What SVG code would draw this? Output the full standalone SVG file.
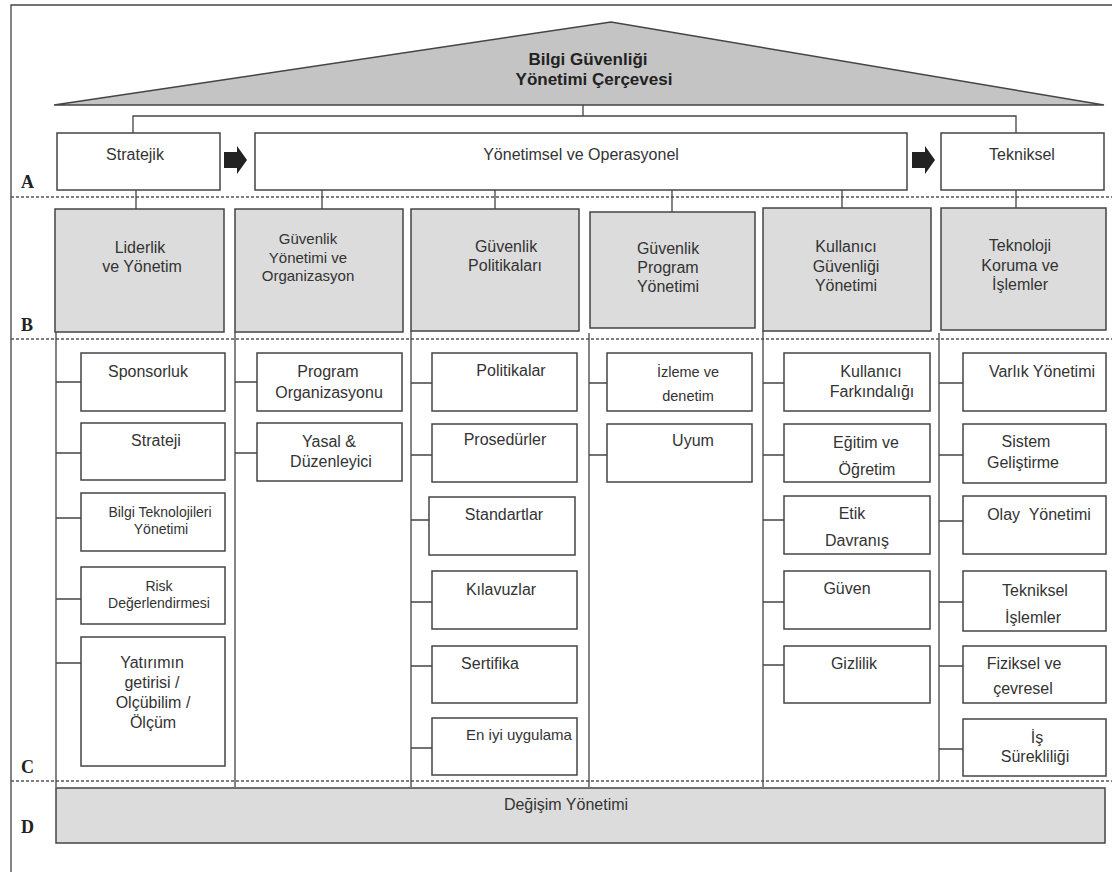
<svg xmlns="http://www.w3.org/2000/svg" width="1112" height="872" viewBox="0 0 1112 872">
<style>
text{font-family:"Liberation Sans",Arial,sans-serif;fill:#333;text-anchor:middle;font-size:16px}
.t{font-size:17px;font-weight:bold;fill:#222}
.lab{font-family:"Liberation Serif","Times New Roman",serif;font-weight:bold;font-size:18px;text-anchor:start;fill:#222}
.s15{font-size:15px}
.s14{font-size:14px}
.s145{font-size:14.5px}
.box{fill:#fff;stroke:#444;stroke-width:1.5}
.gbox{fill:#dcdcdc;stroke:#444;stroke-width:1.5}
.ln{stroke:#444;stroke-width:1.3;fill:none}
.dash{stroke:#555;stroke-width:1.5;stroke-dasharray:3,2;fill:none}
.arr{fill:#222}
</style>
<rect width="1112" height="872" fill="#fff"/>
<path class="ln" d="M11,872 V5 H1112"/>
<g id="roof">
<polygon points="54,105 611,22 1104,105" fill="#c4c4c4" stroke="#444" stroke-width="1.5"/>
<text class="t" x="588" y="65">Bilgi Güvenliği</text>
<text class="t" x="594" y="85">Yönetimi Çerçevesi</text>
</g>
<g id="labels">
<text class="lab" x="21" y="188">A</text>
<text class="lab" x="21" y="331">B</text>
<text class="lab" x="21" y="773">C</text>
<text class="lab" x="21" y="833">D</text>
</g>
<g id="dividers">
<line class="dash" x1="11" y1="197" x2="1112" y2="197"/>
<line class="dash" x1="11" y1="339" x2="1112" y2="339"/>
<line class="dash" x1="11" y1="781" x2="1112" y2="781"/>
</g>
<g id="connectors">
<path class="ln" d="M583,105 V116 M133,133 V116 H1016 V133"/>
<path class="ln" d="M136,190 V209 M322,190 V209 M495,190 V209 M672,190 V212 M842,190 V208 M1016,190 V208"/>
<path class="arr" d="M224,152 H237 V146 L247,160 L237,174 V168 H224 Z"/>
<path class="arr" d="M912,152 H925 V146 L935,160 L925,174 V168 H912 Z"/>
<path class="ln" d="M56,332 V787 M235,332 V787 M411,331 V787 M589,333 V787 M763,331 V787 M939,333 V781"/>
<path class="ln" d="M56,382 H81 M56,453 H81 M56,518 H81 M56,599 H81 M56,663 H81"/>
<path class="ln" d="M235,382 H257 M235,453 H257"/>
<path class="ln" d="M411,383 H432 M411,455 H432 M411,520 H429 M411,602 H432 M411,666 H432 M411,748 H432"/>
<path class="ln" d="M589,383 H607 M589,455 H607"/>
<path class="ln" d="M763,383 H784 M763,455 H784 M763,520 H784 M763,602 H784 M763,665 H784"/>
<path class="ln" d="M939,383 H963 M939,455 H963 M939,521 H963 M939,602 H963 M939,666 H963 M939,749 H963"/>
</g>
<g id="stratejik"><rect class="box" x="57" y="133" width="163" height="57"/><text x="135" y="160">Stratejik</text></g>
<g id="yonetimsel"><rect class="box" x="255" y="133" width="652" height="57"/><text x="581" y="160">Yönetimsel ve Operasyonel</text></g>
<g id="tekniksel"><rect class="box" x="941" y="133" width="163" height="57"/><text x="1022" y="160">Tekniksel</text></g>

<g id="liderlik"><rect class="gbox" x="55" y="209" width="169" height="123"/><text x="140" y="253">Liderlik</text><text x="142" y="272">ve Yönetim</text></g>
<g id="guv-yon-org"><rect class="gbox" x="235" y="209" width="168" height="123"/><text class="s15" x="308" y="244">Güvenlik</text><text class="s15" x="308" y="263">Yönetimi ve</text><text class="s15" x="308" y="281">Organizasyon</text></g>
<g id="guv-pol"><rect class="gbox" x="411" y="209" width="168" height="122"/><text x="506" y="252">Güvenlik</text><text x="505" y="271">Politikaları</text></g>
<g id="guv-prog"><rect class="gbox" x="590" y="212" width="165" height="116"/><text x="668" y="254">Güvenlik</text><text x="668" y="273">Program</text><text x="668" y="292">Yönetimi</text></g>
<g id="kul-guv"><rect class="gbox" x="763" y="208" width="168" height="123"/><text x="846" y="252">Kullanıcı</text><text x="846" y="272">Güvenliği</text><text x="846" y="291">Yönetimi</text></g>
<g id="teknoloji"><rect class="gbox" x="941" y="208" width="165" height="122"/><text x="1020" y="251">Teknoloji</text><text x="1020" y="271">Koruma ve</text><text x="1020" y="290">İşlemler</text></g>

<g id="sponsorluk"><rect class="box" x="81" y="353" width="144" height="58"/><text x="148" y="377">Sponsorluk</text></g>
<g id="strateji"><rect class="box" x="81" y="423" width="144" height="57"/><text x="156" y="446">Strateji</text></g>
<g id="bty"><rect class="box" x="81" y="493" width="144" height="58"/><text class="s14" x="160" y="517">Bilgi Teknolojileri</text><text class="s14" x="161" y="534">Yönetimi</text></g>
<g id="risk"><rect class="box" x="81" y="567" width="144" height="57"/><text class="s14" x="159" y="591">Risk</text><text class="s14" x="159" y="608">Değerlendirmesi</text></g>
<g id="yatirim"><rect class="box" x="81" y="637" width="144" height="129"/><text x="152" y="668">Yatırımın</text><text x="152" y="688">getirisi /</text><text x="153" y="708">Olçübilim /</text><text x="153" y="728">Ölçüm</text></g>

<g id="prog-org"><rect class="box" x="257" y="353" width="145" height="58"/><text x="328" y="377">Program</text><text x="329" y="398">Organizasyonu</text></g>
<g id="yasal"><rect class="box" x="257" y="423" width="145" height="58"/><text x="329" y="447">Yasal &amp;</text><text x="331" y="467">Düzenleyici</text></g>

<g id="politikalar"><rect class="box" x="432" y="353" width="145" height="58"/><text x="511" y="376">Politikalar</text></g>
<g id="prosedurler"><rect class="box" x="432" y="424" width="145" height="58"/><text x="505" y="445">Prosedürler</text></g>
<g id="standartlar"><rect class="box" x="429" y="497" width="146" height="58"/><text x="504" y="520">Standartlar</text></g>
<g id="kilavuzlar"><rect class="box" x="432" y="571" width="145" height="58"/><text x="501" y="595">Kılavuzlar</text></g>
<g id="sertifika"><rect class="box" x="432" y="646" width="145" height="57"/><text x="490" y="669">Sertifika</text></g>
<g id="eniyi"><rect class="box" x="432" y="718" width="145" height="57"/><text class="s15" x="519" y="740">En iyi uygulama</text></g>

<g id="izleme"><rect class="box" x="607" y="353" width="145" height="58"/><text class="s145" x="688" y="377">İzleme ve</text><text class="s145" x="688" y="401">denetim</text></g>
<g id="uyum"><rect class="box" x="607" y="424" width="145" height="58"/><text x="693" y="446">Uyum</text></g>

<g id="kul-fark"><rect class="box" x="784" y="353" width="146" height="58"/><text x="871" y="377">Kullanıcı</text><text x="872" y="397">Farkındalığı</text></g>
<g id="egitim"><rect class="box" x="784" y="424" width="146" height="58"/><text x="866" y="448">Eğitim ve</text><text x="867" y="475">Öğretim</text></g>
<g id="etik"><rect class="box" x="784" y="496" width="146" height="58"/><text x="852" y="519">Etik</text><text x="857" y="546">Davranış</text></g>
<g id="guven"><rect class="box" x="784" y="571" width="146" height="58"/><text x="847" y="594">Güven</text></g>
<g id="gizlilik"><rect class="box" x="784" y="646" width="146" height="57"/><text x="854" y="669">Gizlilik</text></g>

<g id="varlik"><rect class="box" x="963" y="353" width="143" height="58"/><text x="1042" y="377">Varlık Yönetimi</text></g>
<g id="sistem"><rect class="box" x="963" y="424" width="143" height="59"/><text x="1026" y="447">Sistem</text><text x="1023" y="468">Geliştirme</text></g>
<g id="olay"><rect class="box" x="963" y="496" width="143" height="58"/><text x="1039" y="520" xml:space="preserve">Olay  Yönetimi</text></g>
<g id="tek-islem"><rect class="box" x="963" y="571" width="143" height="60"/><text x="1035" y="596">Tekniksel</text><text x="1033" y="623">İşlemler</text></g>
<g id="fiziksel"><rect class="box" x="963" y="646" width="143" height="57"/><text x="1024" y="669">Fiziksel ve</text><text x="1023" y="694">çevresel</text></g>
<g id="is-surek"><rect class="box" x="963" y="719" width="143" height="57"/><text x="1037" y="743">İş</text><text x="1035" y="762">Sürekliliği</text></g>

<g id="degisim"><rect class="gbox" x="56" y="788" width="1049" height="55"/><text x="566" y="810">Değişim Yönetimi</text></g>
</svg>
